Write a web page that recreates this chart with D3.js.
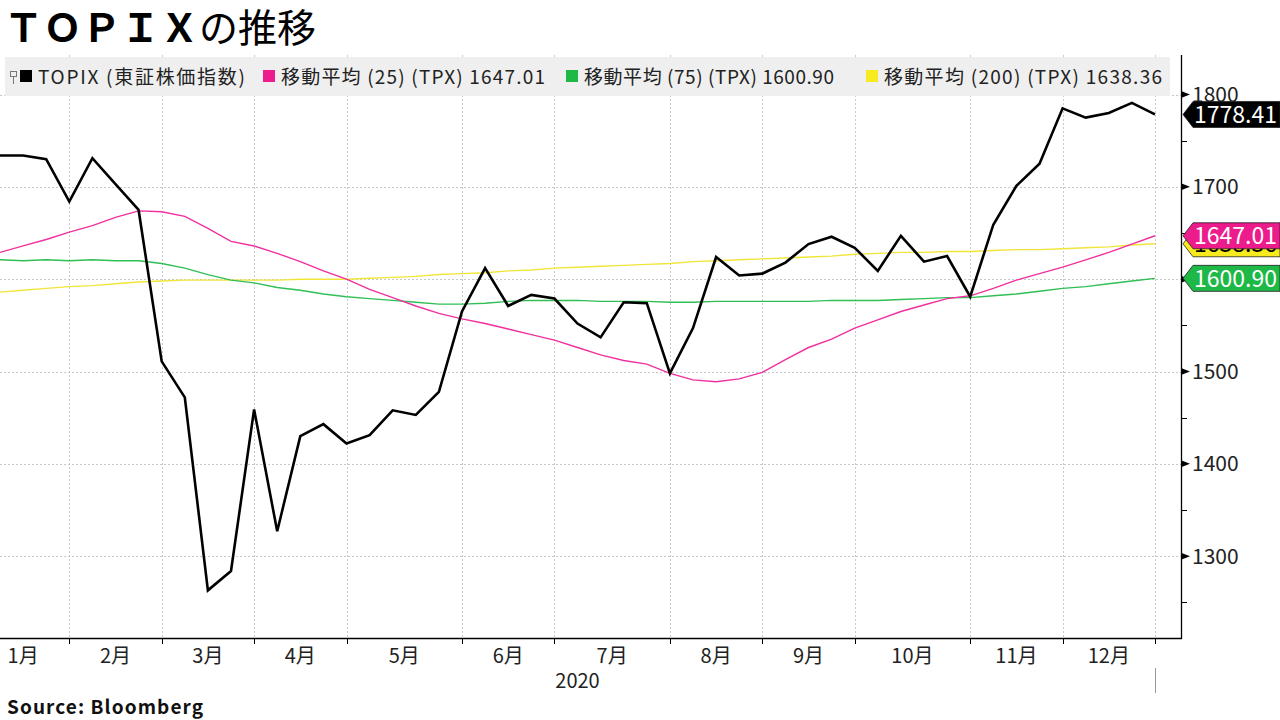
<!DOCTYPE html>
<html>
<head>
<meta charset="utf-8">
<script src="https://cdn.jsdelivr.net/npm/d3@7"></script>
<style>
  html, body { margin: 0; padding: 0; background: #fff; }
  svg { display: block; }
  text { font-family: "Noto Sans CJK JP", "Noto Sans", sans-serif; }
</style>
</head>
<body>
<svg id="chart" width="1280" height="720"></svg>
<script>
// ---- data (weekly closes, 2020) ----
const topix = [1734, 1734, 1730, 1684, 1731, 1703, 1675, 1511, 1472, 1263, 1284, 1459, 1327, 1430, 1443, 1422, 1431, 1458, 1453, 1478,
  1565, 1612, 1571, 1583, 1579, 1552, 1537, 1575, 1574, 1498, 1547, 1624, 1604, 1606, 1618, 1638, 1646, 1634, 1609, 1647,
  1619, 1625, 1581, 1659, 1701, 1725, 1785, 1775, 1780, 1791, 1778.41];
const ma25 = [1629, 1636, 1643, 1651, 1658, 1667, 1674, 1673, 1668, 1655, 1641, 1636, 1628, 1619, 1609, 1600, 1589, 1580, 1571, 1563,
  1557, 1552, 1546, 1540, 1534, 1526, 1518, 1512, 1508, 1498, 1491, 1489, 1492, 1499, 1513, 1526, 1535, 1547, 1556, 1565,
  1572, 1579, 1582, 1590, 1599, 1606, 1613, 1621, 1629, 1638, 1647.01];
const ma75 = [1621, 1620, 1621, 1620, 1621, 1620, 1620, 1617, 1612, 1605, 1599, 1596, 1591, 1588, 1584, 1581, 1579, 1577, 1575, 1573,
  1573, 1574, 1576, 1577, 1577, 1577, 1576, 1576, 1576, 1575, 1575, 1576, 1576, 1576, 1576, 1576, 1577, 1577, 1577, 1578,
  1579, 1580, 1580, 1582, 1584, 1587, 1590, 1592, 1595, 1598, 1600.90];
const ma200 = [1586, 1588, 1590, 1592, 1593, 1595, 1597, 1598, 1599, 1599, 1599, 1599, 1599, 1600, 1600, 1600, 1601, 1602, 1603, 1605,
  1606, 1607, 1609, 1610, 1612, 1613, 1614, 1615, 1616, 1617, 1619, 1620, 1621, 1622, 1623, 1624, 1625, 1627, 1628, 1629,
  1629, 1630, 1630, 1631, 1632, 1632, 1633, 1634, 1635, 1637, 1638.36];

const monthStarts = [-1, 3, 7, 11, 15, 20, 24, 29, 33, 37, 42, 46, 50]; // week index where each month begins
const monthLabels = ["1月", "2月", "3月", "4月", "5月", "6月", "7月", "8月", "9月", "10月", "11月", "12月"];
const yTicks = [1300, 1400, 1500, 1600, 1700, 1800];
const yMinorTicks = [1250, 1350, 1450, 1550, 1650, 1750];
const yearLabel = "2020";

const seriesNames = ["TOPIX (東証株価指数)", "移動平均 (25) (TPX) 1647.01", "移動平均 (75) (TPX) 1600.90", "移動平均 (200) (TPX) 1638.36"];
const seriesColors = ["#000000", "#ec1c8c", "#1db846", "#f7ea1e"];
const lineColors = ["#000000", "#f0309e", "#2fbf55", "#f2e53a"];

// ---- layout ----
const svg = d3.select("#chart");
const plotLeft = 0, plotRight = 1181, plotTop = 55, plotBottom = 638;

const x = d3.scaleLinear().domain([0, 50]).range([0, 1155]);
const y = d3.scaleLinear().domain([1211.4, 1842.8]).range([plotBottom, plotTop]);

// title
const title = svg.append("text").attr("x", 4).attr("y", 42).attr("font-size", 39);
title.append("tspan").attr("font-weight", 700).text("ＴＯＰＩＸ");
title.append("tspan").attr("font-weight", 400).text("の推移");

// grid
const grid = svg.append("g");
grid.selectAll("line.h").data(yTicks).join("line")
  .attr("x1", plotLeft).attr("x2", plotRight)
  .attr("y1", d => Math.round(y(d)) + 0.5).attr("y2", d => Math.round(y(d)) + 0.5)
  .attr("stroke", "#c8c8c8").attr("stroke-dasharray", "2,2");
grid.selectAll("line.v").data(monthStarts.filter(d => d >= 0)).join("line")
  .attr("x1", d => Math.round(x(d)) + 0.5).attr("x2", d => Math.round(x(d)) + 0.5)
  .attr("y1", plotTop).attr("y2", plotBottom)
  .attr("stroke", "#c8c8c8").attr("stroke-dasharray", "2,2");

// legend band
svg.append("rect").attr("x", 5).attr("y", 57).attr("width", 1165).attr("height", 39).attr("fill", "#efefef");
// small pin icon
const icon = svg.append("g").attr("stroke", "#777").attr("fill", "none").attr("stroke-width", 1);
icon.append("rect").attr("x", 10.5).attr("y", 71.5).attr("width", 6).attr("height", 5);
icon.append("line").attr("x1", 13.5).attr("x2", 13.5).attr("y1", 76.5).attr("y2", 84);
const legendX = [20, 263, 566, 866];
const legendW = [207, 264, 250, 278];
const leg = svg.append("g").selectAll("g").data(seriesNames).join("g")
  .attr("transform", (d, i) => `translate(${legendX[i]},0)`);
leg.append("rect").attr("x", 0).attr("y", 70).attr("width", 12).attr("height", 12)
  .attr("fill", (d, i) => seriesColors[i]);
leg.append("text").attr("x", 18).attr("y", 84).attr("font-size", 19).attr("fill", "#222")
  .attr("textLength", (d, i) => legendW[i]).attr("lengthAdjust", "spacing").text(d => d);

// lines
const line = d3.line().x((d, i) => x(i)).y(d => y(d));
const allSeries = [ma200, ma75, ma25, topix];
const allColors = [lineColors[3], lineColors[2], lineColors[1], lineColors[0]];
const allWidths = [1.4, 1.4, 1.4, 2.6];
svg.append("g").selectAll("path").data(allSeries).join("path")
  .attr("d", d => line(d))
  .attr("fill", "none")
  .attr("stroke", (d, i) => allColors[i])
  .attr("stroke-width", (d, i) => allWidths[i])
  .attr("stroke-linejoin", "miter");

// right axis
const axisG = svg.append("g");
axisG.append("line").attr("x1", plotRight + 0.5).attr("x2", plotRight + 0.5).attr("y1", plotTop).attr("y2", plotBottom + 1)
  .attr("stroke", "#000").attr("stroke-width", 1.3);
axisG.selectAll("path.maj").data(yTicks).join("path")
  .attr("d", d => `M${plotRight},${y(d) - 3.5} L${plotRight + 9},${y(d)} L${plotRight},${y(d) + 3.5} Z`)
  .attr("fill", "#000");
axisG.selectAll("line.min").data(yMinorTicks).join("line")
  .attr("x1", plotRight).attr("x2", plotRight + 6)
  .attr("y1", d => Math.round(y(d)) + 0.5).attr("y2", d => Math.round(y(d)) + 0.5)
  .attr("stroke", "#000");
axisG.selectAll("text").data(yTicks).join("text")
  .attr("x", 1192).attr("y", d => y(d)).attr("dy", "0.35em")
  .attr("font-size", 21).attr("fill", "#222").text(d => d);

// bottom axis
const xAxisG = svg.append("g");
xAxisG.append("line").attr("x1", plotLeft).attr("x2", plotRight + 1).attr("y1", plotBottom + 0.5).attr("y2", plotBottom + 0.5)
  .attr("stroke", "#000").attr("stroke-width", 1.3);
xAxisG.selectAll("line.tk").data(monthStarts.filter(d => d >= 0)).join("line")
  .attr("x1", d => Math.round(x(d)) + 0.5).attr("x2", d => Math.round(x(d)) + 0.5)
  .attr("y1", plotBottom).attr("y2", plotBottom + 6)
  .attr("stroke", "#000");
xAxisG.selectAll("text").data(monthLabels).join("text")
  .attr("x", (d, i) => (x(monthStarts[i]) + x(monthStarts[i + 1])) / 2)
  .attr("y", 663).attr("text-anchor", "middle").attr("font-size", 20).attr("fill", "#222").text(d => d);
xAxisG.append("text").attr("x", (x(0) + x(50)) / 2).attr("y", 688).attr("text-anchor", "middle")
  .attr("font-size", 20).attr("fill", "#222").text(yearLabel);
xAxisG.append("line").attr("x1", Math.round(x(50)) + 0.5).attr("x2", Math.round(x(50)) + 0.5)
  .attr("y1", 668).attr("y2", 693).attr("stroke", "#999");

// value callouts
const lastVals = [ma200[50], ma25[50], ma75[50], topix[50]];
const boxFill = [seriesColors[3], seriesColors[1], seriesColors[2], seriesColors[0]];
const boxText = ["#000", "#fff", "#fff", "#fff"];
const callouts = svg.append("g").selectAll("g").data(lastVals).join("g")
  .attr("transform", d => `translate(0,${y(d)})`);
callouts.append("path")
  .attr("d", `M1183,0 L1193,-13 L1280,-13 L1280,13 L1193,13 Z`)
  .attr("fill", (d, i) => boxFill[i]).attr("stroke", "#222").attr("stroke-width", 0.8);
callouts.append("text").attr("x", 1194).attr("y", 0).attr("dy", "0.36em")
  .attr("font-size", 23).attr("fill", (d, i) => boxText[i]).text(d => d.toFixed(2));

// source
svg.append("text").attr("x", 7).attr("y", 714).attr("font-size", 19).attr("font-weight", 700)
  .attr("font-family", "'Open Sans', sans-serif").attr("fill", "#111")
  .attr("textLength", 196).attr("lengthAdjust", "spacing").text("Source:  Bloomberg");
</script>
</body>
</html>
